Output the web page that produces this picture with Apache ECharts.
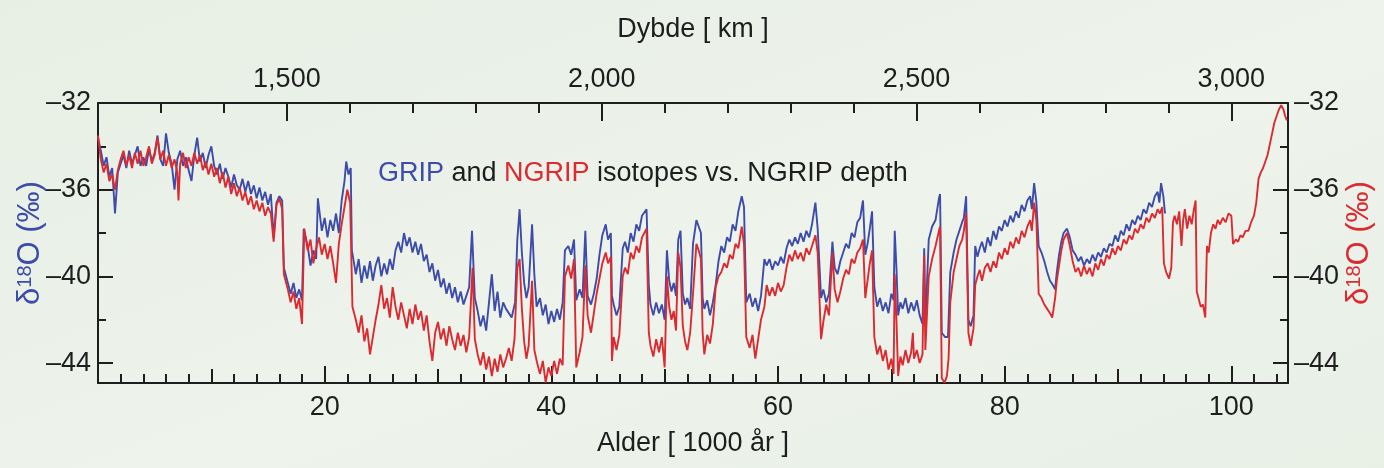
<!DOCTYPE html>
<html>
<head>
<meta charset="utf-8">
<title>GRIP and NGRIP isotopes vs. NGRIP depth</title>
<script src="https://cdn.jsdelivr.net/npm/echarts@6/dist/echarts.min.js"></script>
<style>
  html, body { margin: 0; padding: 0; }
  body { background: linear-gradient(160deg, #e7efe4 0%, #eef3ec 55%, #e8f0e6 100%); }
  #isotopeChart { width: 1384px; height: 468px; }
</style>
</head>
<body>
<div id="isotopeChart"></div>
<script>
// age axis (1000 yr) and depth axis (m) ranges
const ageRange = [0, 105];
const ageLabels = [20, 40, 60, 80, 100];
const depthRange = [1200, 3090];
const depthLabels = [1500, 2000, 2500, 3000];
const d18oRange = [-44.92, -32];
const d18oLabels = [-44, -40, -36, -32];

// GRIP (blue), [age ka, d18O permil]
const grip = [
  [0, -33.6], [0.25, -34.2], [0.5, -34.9], [0.75, -34.5], [1, -35.4], [1.25, -35.0], [1.5, -37.1], [1.75, -35.2],
  [2, -34.8], [2.25, -34.4], [2.5, -35.0], [2.75, -34.2], [3, -34.8], [3.25, -34.4], [3.5, -34.0], [3.75, -34.9],
  [4, -34.5], [4.25, -34.9], [4.5, -34.1], [4.75, -34.7], [5, -34.3], [5.25, -33.5], [5.5, -34.6], [5.75, -34.9],
  [6, -33.4], [6.25, -34.3], [6.5, -34.8], [6.75, -36.0], [7, -34.6], [7.25, -34.2], [7.5, -34.9], [7.75, -34.5],
  [8, -35.1], [8.25, -35.6], [8.5, -34.4], [8.75, -33.6], [9, -34.7], [9.25, -34.3], [9.5, -35.0], [9.75, -34.4],
  [10, -34.0], [10.25, -34.9], [10.5, -35.3], [10.75, -34.8], [11, -35.5], [11.25, -35.0], [11.5, -35.4], [11.75, -35.9],
  [12, -35.3], [12.25, -35.8], [12.5, -36.0], [12.75, -35.5], [13, -36.1], [13.25, -35.6], [13.5, -36.2], [13.75, -35.8],
  [14, -36.4], [14.25, -35.9], [14.5, -36.5], [14.75, -36.1], [15, -36.7], [15.25, -36.2], [15.5, -38.2], [15.75, -36.6],
  [16, -36.3], [16.25, -36.5], [16.4, -39.6], [16.75, -40.3], [17, -40.8], [17.25, -40.3], [17.5, -41.0], [17.75, -40.6],
  [18, -41.1], [18.15, -37.8], [18.5, -38.6], [18.75, -39.5], [19, -38.8], [19.25, -39.2], [19.4, -36.4], [19.75, -37.9],
  [20, -37.3], [20.25, -38.2], [20.5, -37.4], [20.75, -37.9], [21, -37.1], [21.25, -38.0], [21.5, -36.5], [21.75, -35.6],
  [21.9, -34.7], [22.1, -35.3], [22.3, -35.0], [22.4, -38.8], [22.75, -39.9], [23, -39.2], [23.25, -40.3], [23.5, -39.5],
  [23.75, -40.1], [24, -39.3], [24.25, -40.2], [24.5, -39.5], [24.75, -39.1], [25, -40.0], [25.25, -39.4], [25.5, -39.9],
  [25.75, -39.2], [26, -39.7], [26.25, -38.8], [26.5, -38.4], [26.75, -38.9], [27, -38.0], [27.25, -38.6], [27.5, -38.2],
  [27.75, -38.9], [28, -38.4], [28.25, -39.0], [28.5, -38.5], [28.75, -39.3], [29, -39.0], [29.25, -39.8], [29.5, -39.4],
  [29.75, -40.2], [30, -39.7], [30.25, -40.5], [30.5, -40.1], [30.75, -40.8], [31, -40.3], [31.25, -41.0], [31.5, -40.5],
  [31.75, -41.2], [32, -40.7], [32.25, -41.3], [32.5, -40.9], [32.75, -40.5], [33, -37.9], [33.25, -41.0], [33.5, -41.6],
  [33.75, -42.3], [34, -41.8], [34.25, -42.5], [34.5, -41.2], [34.75, -39.9], [35, -41.6], [35.25, -40.7], [35.5, -41.9],
  [35.75, -41.2], [36, -41.5], [36.5, -41.9], [36.8, -41.2], [37, -38.3], [37.2, -36.9], [37.4, -38.9], [37.6, -40.3],
  [37.8, -41.0], [38, -40.5], [38.3, -37.6], [38.5, -39.9], [38.7, -41.4], [39, -41.0], [39.25, -41.8], [39.5, -41.3],
  [39.75, -42.2], [40, -41.6], [40.25, -42.1], [40.5, -41.5], [40.75, -42.0], [41, -41.2], [41.2, -38.8], [41.5, -38.6],
  [41.75, -39.0], [42, -38.3], [42.2, -41.1], [42.5, -40.6], [42.75, -41.0], [43, -37.9], [43.2, -40.9], [43.5, -41.3],
  [43.75, -40.8], [44, -40.1], [44.25, -39.0], [44.5, -38.1], [44.8, -37.6], [45, -38.3], [45.25, -38.0], [45.35, -40.9],
  [45.5, -41.3], [45.75, -41.8], [46, -41.4], [46.3, -38.7], [46.5, -38.4], [46.75, -38.9], [47, -38.0], [47.25, -38.4],
  [47.5, -37.6], [47.75, -37.9], [48, -37.2], [48.4, -36.9], [48.6, -40.4], [48.75, -41.3], [49, -41.8], [49.25, -41.2],
  [49.5, -41.7], [49.75, -41.3], [50, -42.0], [50.2, -38.8], [50.4, -40.2], [50.6, -40.7], [50.8, -40.3], [51, -40.9],
  [51.2, -38.3], [51.4, -37.9], [51.6, -40.8], [51.8, -41.3], [52, -41.0], [52.25, -41.5], [52.5, -38.5], [52.8, -37.4],
  [53, -37.7], [53.2, -38.0], [53.35, -41.0], [53.5, -41.5], [53.75, -41.1], [54, -41.8], [54.25, -41.2], [54.5, -40.4],
  [54.75, -39.3], [55, -38.6], [55.25, -38.9], [55.5, -38.2], [55.75, -38.4], [56, -37.6], [56.25, -37.9], [56.5, -37.0],
  [56.8, -36.3], [57, -36.8], [57.2, -41.2], [57.5, -40.8], [57.75, -41.4], [58, -41.0], [58.25, -41.6], [58.5, -40.9],
  [58.8, -39.2], [59, -39.5], [59.25, -39.2], [59.5, -39.7], [59.75, -39.3], [60, -39.5], [60.25, -39.1], [60.5, -39.4],
  [60.75, -38.7], [61, -38.3], [61.25, -38.6], [61.5, -38.2], [61.75, -38.5], [62, -38.0], [62.25, -38.4], [62.5, -37.9],
  [62.75, -38.2], [63, -37.6], [63.3, -36.6], [63.5, -37.8], [63.8, -41.0], [64, -40.6], [64.25, -41.2], [64.5, -40.8],
  [64.8, -38.4], [65, -39.6], [65.25, -39.9], [65.5, -39.3], [65.75, -38.9], [66, -38.5], [66.25, -38.7], [66.5, -38.0],
  [66.75, -38.2], [67, -37.5], [67.25, -37.3], [67.5, -36.5], [67.7, -39.0], [67.9, -38.5], [68.1, -37.8], [68.3, -37.0],
  [68.5, -40.5], [68.75, -41.4], [69, -41.0], [69.25, -41.6], [69.5, -41.2], [69.75, -41.7], [70, -40.8], [70.2, -41.1],
  [70.3, -37.9], [70.45, -39.6], [70.6, -41.8], [70.8, -41.2], [71, -41.5], [71.25, -41.0], [71.5, -41.7], [71.75, -41.2],
  [72, -41.6], [72.25, -41.1], [72.5, -41.8], [72.75, -42.2], [72.9, -38.7], [73, -42.3], [73.3, -38.3], [73.6, -37.7],
  [73.9, -37.4], [74.2, -36.4], [74.3, -36.2], [74.45, -42.6], [74.75, -42.8], [75, -42.8], [75.2, -39.8], [75.5, -38.9],
  [75.75, -38.3], [76, -37.9], [76.25, -37.5], [76.4, -37.3], [76.6, -36.3], [76.8, -42.0], [77, -42.3], [77.25, -41.8],
  [77.4, -38.6], [77.6, -39.1], [77.8, -38.7], [78, -38.4], [78.25, -38.9], [78.5, -38.2], [78.75, -38.6], [79, -37.9],
  [79.25, -38.3], [79.5, -37.7], [79.75, -37.9], [80, -37.4], [80.25, -37.7], [80.5, -37.2], [80.75, -37.5], [81, -37.0],
  [81.25, -37.3], [81.5, -36.7], [81.75, -37.0], [82, -36.5], [82.25, -36.3], [82.4, -36.9], [82.6, -35.7], [82.8, -36.6],
  [83, -38.6], [83.25, -38.9], [83.5, -39.3], [83.75, -39.8], [84, -40.2], [84.25, -40.4], [84.45, -40.6], [84.6, -39.8],
  [84.8, -39.0], [85, -38.4], [85.2, -38.0], [85.5, -37.8], [85.75, -38.2], [86, -38.8], [86.25, -39.0], [86.5, -39.3],
  [86.75, -39.1], [87, -39.5], [87.25, -39.2], [87.5, -39.4], [87.75, -39.0], [88, -39.3], [88.25, -38.9], [88.5, -39.1],
  [88.75, -38.7], [89, -38.9], [89.25, -38.5], [89.5, -38.6], [89.75, -38.1], [90, -38.4], [90.25, -37.9], [90.5, -38.1],
  [90.75, -37.6], [91, -37.9], [91.25, -37.4], [91.5, -37.6], [91.75, -37.2], [92, -37.4], [92.25, -36.9], [92.5, -37.1],
  [92.75, -36.6], [93, -36.8], [93.25, -36.3], [93.5, -36.1], [93.65, -36.6], [93.8, -35.7], [94, -36.3], [94.15, -37.1]
];

// NGRIP (red), [age ka, d18O permil]
const ngrip = [
  [0, -33.5], [0.25, -34.6], [0.5, -35.2], [0.75, -34.8], [1, -35.6], [1.25, -35.3], [1.5, -36.0], [1.75, -35.1],
  [2, -34.6], [2.25, -34.2], [2.5, -34.9], [2.75, -34.4], [3, -35.0], [3.25, -34.3], [3.5, -34.8], [3.75, -34.2],
  [4, -34.9], [4.25, -34.5], [4.5, -34.0], [4.75, -34.8], [5, -34.4], [5.25, -33.6], [5.5, -34.6], [5.75, -34.2],
  [6, -34.9], [6.25, -34.4], [6.5, -35.0], [6.75, -34.6], [7, -35.2], [7.1, -36.5], [7.25, -34.8], [7.5, -34.3],
  [7.75, -35.0], [8, -34.5], [8.25, -34.9], [8.5, -34.3], [8.75, -34.8], [9, -34.4], [9.25, -35.1], [9.5, -34.7],
  [9.75, -35.3], [10, -34.8], [10.25, -35.4], [10.5, -35.0], [10.75, -35.7], [11, -35.2], [11.25, -35.9], [11.5, -35.4],
  [11.75, -36.2], [12, -35.7], [12.25, -36.3], [12.5, -35.9], [12.75, -36.5], [13, -36.1], [13.25, -36.7], [13.5, -36.3],
  [13.75, -36.9], [14, -36.5], [14.25, -37.0], [14.5, -36.6], [14.75, -37.2], [15, -36.8], [15.25, -37.1], [15.5, -38.4],
  [15.75, -36.7], [16, -36.4], [16.25, -36.9], [16.4, -39.9], [16.75, -40.6], [17, -41.2], [17.25, -40.7], [17.5, -41.5],
  [17.75, -41.0], [18, -42.2], [18.2, -37.8], [18.5, -38.8], [18.75, -38.3], [19, -39.4], [19.25, -38.7], [19.5, -38.2],
  [19.75, -39.0], [20, -38.5], [20.25, -39.2], [20.5, -38.6], [20.75, -39.4], [21, -40.3], [21.25, -38.5], [21.5, -37.6],
  [21.75, -36.8], [22, -36.0], [22.25, -36.6], [22.45, -41.4], [22.75, -42.0], [23, -42.6], [23.25, -41.8], [23.5, -43.0],
  [23.75, -42.4], [24, -43.6], [24.25, -42.8], [24.5, -42.0], [24.75, -41.3], [25, -40.4], [25.25, -41.5], [25.5, -41.0],
  [25.75, -41.9], [26, -40.5], [26.25, -41.4], [26.5, -42.0], [26.75, -41.2], [27, -41.8], [27.25, -42.4], [27.5, -41.5],
  [27.75, -42.2], [28, -41.3], [28.25, -42.0], [28.5, -41.6], [28.75, -42.5], [29, -41.8], [29.25, -43.0], [29.5, -43.9],
  [29.75, -42.6], [30, -42.1], [30.25, -42.9], [30.5, -42.4], [30.75, -43.2], [31, -42.3], [31.25, -42.9], [31.5, -43.4],
  [31.75, -42.6], [32, -43.2], [32.25, -42.7], [32.5, -43.5], [32.75, -42.8], [33.05, -39.6], [33.25, -42.9], [33.5, -43.6],
  [33.75, -44.1], [34, -43.5], [34.25, -44.3], [34.5, -43.7], [34.75, -44.6], [35, -43.8], [35.25, -44.4], [35.5, -43.6],
  [35.75, -44.2], [36, -43.8], [36.25, -43.3], [36.5, -43.9], [36.75, -42.9], [37, -39.6], [37.2, -39.2], [37.4, -41.5],
  [37.6, -43.0], [37.8, -43.8], [38, -43.2], [38.3, -40.2], [38.5, -43.4], [38.75, -44.0], [39, -44.5], [39.25, -43.9],
  [39.5, -44.9], [39.75, -44.2], [40, -44.6], [40.25, -43.9], [40.5, -44.5], [40.75, -43.8], [41, -44.1], [41.2, -40.0],
  [41.5, -39.5], [41.75, -40.1], [42, -39.2], [42.2, -44.2], [42.5, -43.5], [42.75, -42.8], [43, -39.5], [43.2, -41.8],
  [43.5, -42.6], [43.75, -41.7], [44, -40.8], [44.25, -40.1], [44.5, -39.4], [44.8, -38.9], [45, -39.4], [45.25, -39.1],
  [45.35, -43.9], [45.5, -42.8], [45.75, -43.4], [46, -42.7], [46.3, -40.0], [46.5, -39.6], [46.75, -39.9], [47, -38.9],
  [47.25, -39.2], [47.5, -38.6], [47.75, -38.9], [48, -38.2], [48.4, -37.8], [48.6, -42.6], [48.75, -43.2], [49, -43.7],
  [49.25, -42.9], [49.5, -43.5], [49.75, -42.8], [50, -44.2], [50.2, -40.0], [50.4, -41.4], [50.6, -42.0], [50.8, -41.6],
  [51, -42.5], [51.2, -38.9], [51.4, -39.6], [51.6, -42.3], [51.8, -43.0], [52, -43.4], [52.25, -42.6], [52.5, -40.8],
  [52.8, -38.5], [53, -38.8], [53.2, -39.2], [53.35, -42.6], [53.5, -43.6], [53.75, -42.7], [54, -43.1], [54.25, -42.2],
  [54.5, -40.5], [54.75, -40.0], [55, -39.8], [55.25, -39.4], [55.5, -39.6], [55.75, -39.0], [56, -39.2], [56.25, -38.5],
  [56.5, -38.7], [56.8, -37.7], [57, -38.5], [57.2, -42.8], [57.5, -43.3], [57.75, -42.7], [58, -43.8], [58.25, -42.9],
  [58.5, -42.0], [58.8, -41.4], [59, -40.4], [59.25, -40.9], [59.5, -40.5], [59.75, -40.9], [60, -40.3], [60.25, -40.7],
  [60.5, -40.4], [60.75, -39.6], [61, -39.0], [61.25, -39.3], [61.5, -38.8], [61.75, -39.2], [62, -38.9], [62.25, -39.3],
  [62.5, -38.7], [62.75, -39.0], [63, -38.6], [63.3, -38.1], [63.5, -38.9], [63.8, -42.9], [64, -42.1], [64.25, -41.3],
  [64.5, -41.8], [64.8, -38.9], [65, -40.6], [65.25, -41.2], [65.5, -40.7], [65.75, -40.1], [66, -39.7], [66.25, -39.9],
  [66.5, -39.2], [66.75, -39.4], [67, -38.9], [67.25, -38.7], [67.5, -38.3], [67.7, -41.0], [67.9, -40.2], [68.1, -39.4],
  [68.3, -38.8], [68.5, -42.8], [68.75, -43.6], [69, -43.2], [69.25, -43.9], [69.5, -43.4], [69.75, -44.3], [70, -43.8],
  [70.2, -44.5], [70.3, -39.9], [70.45, -42.0], [70.6, -44.6], [70.8, -43.7], [71, -44.1], [71.25, -43.4], [71.5, -44.0],
  [71.75, -43.5], [71.9, -42.6], [72, -43.8], [72.25, -43.4], [72.5, -44.0], [72.75, -43.6], [72.9, -39.0], [73, -43.4],
  [73.3, -40.0], [73.6, -39.2], [73.9, -38.6], [74.2, -37.9], [74.3, -37.7], [74.45, -44.7], [74.7, -44.9], [74.9, -44.6],
  [75.05, -43.8], [75.2, -41.2], [75.5, -39.8], [75.75, -39.2], [76, -38.6], [76.25, -38.3], [76.4, -37.9], [76.6, -37.1],
  [76.8, -42.6], [77, -43.2], [77.25, -42.4], [77.4, -40.4], [77.6, -40.0], [77.8, -39.7], [78, -40.2], [78.25, -39.6],
  [78.5, -39.4], [78.75, -39.8], [79, -39.3], [79.25, -39.6], [79.5, -38.9], [79.75, -39.2], [80, -38.7], [80.25, -39.0],
  [80.5, -38.4], [80.75, -38.7], [81, -38.2], [81.25, -38.5], [81.5, -37.9], [81.75, -38.2], [82, -37.7], [82.25, -37.4],
  [82.4, -37.9], [82.6, -36.6], [82.8, -37.4], [83, -40.8], [83.25, -41.0], [83.5, -41.3], [83.75, -41.5], [84, -41.7],
  [84.2, -41.9], [84.45, -41.0], [84.6, -40.2], [84.8, -39.5], [85, -38.8], [85.2, -38.3], [85.5, -38.0], [85.75, -38.6],
  [86, -39.3], [86.25, -39.8], [86.5, -39.6], [86.75, -40.0], [87, -39.5], [87.25, -39.9], [87.5, -39.6], [87.75, -40.0],
  [88, -39.4], [88.25, -39.7], [88.5, -39.2], [88.75, -39.5], [89, -39.0], [89.25, -39.2], [89.5, -38.7], [89.75, -39.0],
  [90, -38.6], [90.25, -38.8], [90.5, -38.3], [90.75, -38.5], [91, -38.1], [91.25, -38.3], [91.5, -37.8], [91.75, -38.0],
  [92, -37.6], [92.25, -37.8], [92.5, -37.3], [92.75, -37.5], [93, -37.1], [93.25, -37.3], [93.5, -36.9], [93.7, -37.1],
  [93.9, -36.8], [94.05, -39.4], [94.25, -39.8], [94.5, -40.1], [94.7, -39.6], [94.85, -37.5], [95, -37.2], [95.2, -37.6],
  [95.4, -37.0], [95.6, -38.6], [95.75, -37.4], [95.9, -36.9], [96.1, -37.8], [96.3, -37.2], [96.5, -37.6], [96.7, -36.9],
  [96.85, -36.5], [96.95, -40.7], [97.1, -41.0], [97.3, -41.4], [97.5, -41.3], [97.7, -41.9], [97.85, -38.6], [98, -38.9],
  [98.2, -38.0], [98.4, -37.6], [98.6, -37.8], [98.8, -37.4], [99, -37.6], [99.25, -37.3], [99.5, -37.5], [99.75, -37.1],
  [100, -37.2], [100.15, -38.5], [100.4, -38.3], [100.6, -38.4], [100.8, -38.1], [101, -38.2], [101.25, -37.9], [101.5, -37.9],
  [101.75, -37.5], [102, -37.2], [102.2, -36.6], [102.4, -35.5], [102.6, -35.2], [102.8, -35.0], [103, -34.7], [103.2, -34.4],
  [103.4, -33.9], [103.6, -33.4], [103.8, -32.9], [104, -32.6], [104.2, -32.3], [104.4, -32.1], [104.6, -32.3], [104.75, -32.6],
  [104.9, -32.8]
];

const BLUE = '#3d4ca8';
const RED = '#dc2a31';
const INK = '#1e1e1e';
const FONT = "'Liberation Sans Narrow', 'Arial Narrow', 'Liberation Sans', Arial, sans-serif";
const FS = 27;

function tickAxis(extra, tickLen) {
  return Object.assign({
    type: 'value',
    axisLine: { show: false, onZero: false },
    axisTick: { show: true, inside: true, length: tickLen, lineStyle: { color: INK, width: 2 } },
    axisLabel: { show: false },
    splitLine: { show: false },
    silent: true
  }, extra);
}

function labelStyle(margin, formatter) {
  return { show: true, margin: margin, fontSize: FS, color: INK, fontFamily: FONT, formatter: formatter };
}

function d18oName(color) {
  return {
    fontFamily: FONT,
    rich: {
      d: { fontSize: 31, color: color, fontFamily: FONT, lineHeight: 31 },
      s: { fontSize: 20, color: color, fontFamily: FONT, lineHeight: 31, verticalAlign: 'top', padding: [0, 0, 10, 0] }
    }
  };
}

const axisLineOn = { show: true, onZero: false, lineStyle: { color: INK, width: 2 } };
const ageFmt = v => ageLabels.includes(v) ? String(v) : '';
const depthFmt = v => depthLabels.includes(v) ? v.toLocaleString('en-US') : '';
const d18oFmt = v => d18oLabels.includes(v) ? '\u2013' + String(-v) : '';

const chart = echarts.init(document.getElementById('isotopeChart'), null, { renderer: 'canvas' });
chart.setOption({
  animation: false,
  backgroundColor: 'transparent',
  textStyle: { fontFamily: FONT },
  title: {
    text: '{b|GRIP} and {r|NGRIP} isotopes vs. NGRIP depth',
    left: 373,
    top: 155,
    textStyle: {
      fontSize: FS, fontWeight: 'normal', color: INK, fontFamily: FONT,
      rich: {
        b: { fontSize: FS, color: BLUE, fontFamily: FONT },
        r: { fontSize: FS, color: RED, fontFamily: FONT }
      }
    }
  },
  grid: { left: 98, right: 96, top: 103, bottom: 85, containLabel: false, outerBoundsMode: 'none' },
  xAxis: [
    tickAxis({
      position: 'bottom', min: ageRange[0], max: ageRange[1], interval: 20,
      axisLine: axisLineOn,
      axisLabel: labelStyle(11, ageFmt),
      name: 'Alder [ 1000 år ]', nameLocation: 'middle', nameGap: 47,
      nameTextStyle: { fontSize: FS, color: INK, fontFamily: FONT }
    }, 17),
    tickAxis({ position: 'bottom', min: ageRange[0], max: ageRange[1], interval: 10 }, 14),
    tickAxis({ position: 'bottom', min: ageRange[0], max: ageRange[1], interval: 2 }, 9),
    tickAxis({
      position: 'top', min: depthRange[0], max: depthRange[1], interval: 100,
      axisLine: axisLineOn
    }, 10),
    tickAxis({
      position: 'top', min: depthRange[0], max: depthRange[1], minInterval: 500, maxInterval: 500,
      axisLabel: labelStyle(10, depthFmt),
      name: 'Dybde [ km ]', nameLocation: 'middle', nameGap: 60,
      nameTextStyle: { fontSize: FS, color: INK, fontFamily: FONT }
    }, 18)
  ],
  yAxis: [
    tickAxis({
      position: 'left', min: d18oRange[0], max: d18oRange[1], minInterval: 4, maxInterval: 4,
      axisLine: axisLineOn,
      axisLabel: labelStyle(7, d18oFmt),
      name: '{d|\u03b4}{s|18}{d|O (\u2030)}', nameLocation: 'middle', nameRotate: 90, nameGap: 52,
      nameMoveOverlap: false,
      nameTextStyle: d18oName(BLUE)
    }, 15),
    tickAxis({ position: 'left', min: d18oRange[0], max: d18oRange[1], minInterval: 2, maxInterval: 2 }, 8),
    tickAxis({
      position: 'right', min: d18oRange[0], max: d18oRange[1], minInterval: 4, maxInterval: 4,
      axisLine: axisLineOn,
      axisLabel: labelStyle(6, d18oFmt),
      name: '{d|\u03b4}{s|18}{d|O (\u2030)}', nameLocation: 'middle', nameRotate: 90, nameGap: 56,
      nameMoveOverlap: false,
      nameTextStyle: d18oName(RED)
    }, 15),
    tickAxis({ position: 'right', min: d18oRange[0], max: d18oRange[1], minInterval: 2, maxInterval: 2 }, 8)
  ],
  series: [
    {
      name: 'GRIP', type: 'line', xAxisIndex: 0, yAxisIndex: 0,
      data: grip, symbol: 'none', silent: true, z: 3,
      lineStyle: { color: BLUE, width: 1.9 }
    },
    {
      name: 'NGRIP', type: 'line', xAxisIndex: 0, yAxisIndex: 0,
      data: ngrip, symbol: 'none', silent: true, z: 4,
      lineStyle: { color: RED, width: 1.9 }
    }
  ]
});
</script>
</body>
</html>
